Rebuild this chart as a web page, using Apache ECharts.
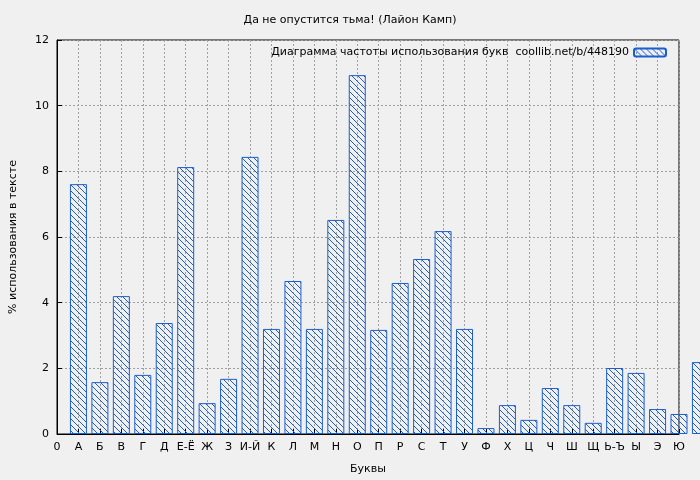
<!DOCTYPE html>
<html>
<head>
<meta charset="utf-8">
<script src="https://cdn.jsdelivr.net/npm/echarts@6/dist/echarts.min.js"></script>
<style>html,body{margin:0;padding:0;background:#f0f0f0}#chart{width:700px;height:480px}</style>
</head>
<body>
<div id="chart"></div>
<script>
// буквы и их частоты (%)
var letters = ['0', 'А', 'Б', 'В', 'Г', 'Д', 'Е-Ё', 'Ж', 'З', 'И-Й', 'К', 'Л', 'М', 'Н', 'О', 'П',
  'Р', 'С', 'Т', 'У', 'Ф', 'Х', 'Ц', 'Ч', 'Ш', 'Щ', 'Ь-Ъ', 'Ы', 'Э', 'Ю', 'Я'];
var freq = [7.61, 1.58, 4.2, 1.8, 3.38, 8.13, 0.94, 1.68, 8.44, 3.2, 4.66, 3.2, 6.52, 10.93, 3.17,
  4.6, 5.33, 6.18, 3.2, 0.18, 0.88, 0.43, 1.4, 0.88, 0.34, 2.01, 1.86, 0.76, 0.61, 2.19];

// штриховка
var pat = document.createElement('canvas');
pat.width = 6; pat.height = 6;
var ctx = pat.getContext('2d');
ctx.strokeStyle = '#1a5fd0';
ctx.lineWidth = 1;
ctx.beginPath();
ctx.moveTo(-1, -1); ctx.lineTo(7, 7);
ctx.moveTo(-1, 5); ctx.lineTo(1, 7);
ctx.moveTo(5, -1); ctx.lineTo(7, 1);
ctx.stroke();

var data = freq.map(function (v, i) { return [i + 1, v]; });
var font = 'DejaVu Sans';
var myChart = echarts.init(document.getElementById('chart'));
myChart.setOption({
  backgroundColor: '#f0f0f0',
  animation: false,
  textStyle: { fontFamily: font },
  title: {
    text: 'Да не опустится тьма! (Лайон Камп)',
    left: 'center', top: 10,
    textStyle: { fontSize: 11, fontWeight: 'normal', color: '#000', fontFamily: font }
  },
  legend: {
    right: 28, top: 42,
    itemWidth: 32, itemHeight: 8, itemGap: 8,
    align: 'right',
    textStyle: { fontSize: 11, color: '#000', fontFamily: font },
    data: ['Диаграмма частоты использования букв  coollib.net/b/448190']
  },
  grid: { left: 54, right: 21, top: 40, bottom: 46, show: true, borderColor: '#000', borderWidth: 1 },
  xAxis: {
    type: 'value', min: 0, max: 29, interval: 1,
    name: 'Буквы', nameLocation: 'middle', nameGap: 30,
    nameTextStyle: { fontSize: 11, color: '#000' },
    axisLine: { lineStyle: { color: '#000' } },
    axisTick: { inside: true, lineStyle: { color: '#000' } },
    axisLabel: { fontSize: 11, color: '#000', formatter: function (v) { return letters[v]; } },
    splitLine: { lineStyle: { color: '#a0a0a0', type: [2, 2] } }
  },
  yAxis: {
    type: 'value', min: 0, max: 12, interval: 2,
    name: '% использования в тексте', nameLocation: 'middle', nameGap: 38,
    nameTextStyle: { fontSize: 11, color: '#000' },
    axisLine: { show: true, lineStyle: { color: '#000' } },
    axisTick: { inside: true, lineStyle: { color: '#000' } },
    axisLabel: { fontSize: 11, color: '#000' },
    splitLine: { lineStyle: { color: '#a0a0a0', type: [2, 2] } }
  },
  series: [{
    name: 'Диаграмма частоты использования букв  coollib.net/b/448190',
    type: 'bar',
    data: data,
    barWidth: 17,
    itemStyle: {
      color: { image: pat, repeat: 'repeat' },
      borderColor: '#1a5fd0', borderWidth: 1
    }
  }]
});
</script>
</body>
</html>
